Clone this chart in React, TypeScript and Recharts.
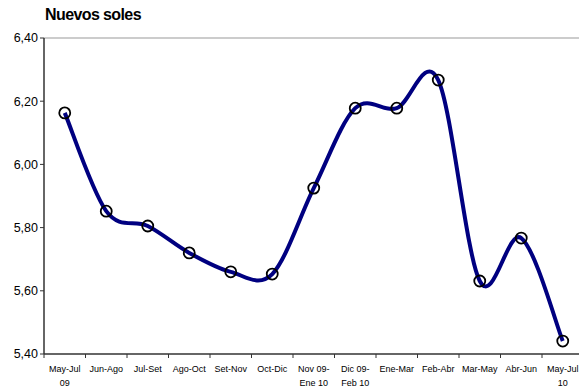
import { LineChart, Line, XAxis, YAxis, ReferenceLine } from "recharts";

const periods = [
  ["May-Jul", "09"],
  ["Jun-Ago"],
  ["Jul-Set"],
  ["Ago-Oct"],
  ["Set-Nov"],
  ["Oct-Dic"],
  ["Nov 09-", "Ene 10"],
  ["Dic 09-", "Feb 10"],
  ["Ene-Mar"],
  ["Feb-Abr"],
  ["Mar-May"],
  ["Abr-Jun"],
  ["May-Jul", "10"],
];

const soles = [6.163, 5.852, 5.805, 5.72, 5.66, 5.653, 5.925, 6.178, 6.178, 6.267, 5.631, 5.767, 5.441];

const yTicks = [5.4, 5.6, 5.8, 6.0, 6.2, 6.4];

const data = periods.map((p, i) => ({ key: p.join(" "), value: soles[i] }));

const HALF_STEP = 20.75;

// Excel-like smoothing (uniform Catmull-Rom through every point)
function excelSmooth(context: any) {
  let pts: [number, number][] = [];
  return {
    areaStart() {},
    areaEnd() {},
    lineStart() {
      pts = [];
    },
    point(x: number, y: number) {
      pts.push([+x, +y]);
    },
    lineEnd() {
      const n = pts.length;
      if (!n) return;
      context.moveTo(pts[0][0], pts[0][1]);
      for (let i = 0; i < n - 1; i++) {
        const p0 = pts[Math.max(i - 1, 0)];
        const p1 = pts[i];
        const p2 = pts[i + 1];
        const p3 = pts[Math.min(i + 2, n - 1)];
        context.bezierCurveTo(
          p1[0] + (p2[0] - p0[0]) / 6,
          p1[1] + (p2[1] - p0[1]) / 6,
          p2[0] - (p3[0] - p1[0]) / 6,
          p2[1] - (p3[1] - p1[1]) / 6,
          p2[0],
          p2[1],
        );
      }
    },
  };
}

function PeriodTick(props: any) {
  const { x, y, index } = props;
  const lines = periods[index] || [];
  return (
    <g>
      <line x1={x - HALF_STEP} y1={y - 8} x2={x - HALF_STEP} y2={y - 4} stroke="#333" strokeWidth={1} />
      {lines.map((t, i) => (
        <text
          key={i}
          x={x}
          y={y + 10 + i * 14}
          textAnchor="middle"
          fontSize={9}
          fontFamily="Liberation Sans, Arial, sans-serif"
          fill="#000"
        >
          {t}
        </text>
      ))}
    </g>
  );
}

export default function App() {
  return (
    <div
      style={{
        position: "absolute",
        left: 0,
        top: 0,
        width: 579,
        height: 390,
        overflow: "hidden",
        background: "#fff",
      }}
    >
      <div
        style={{
          position: "absolute",
          left: 45,
          top: 6,
          fontFamily: "Liberation Sans, Arial, sans-serif",
          fontSize: 16,
          fontWeight: "bold",
          letterSpacing: -0.6,
          color: "#000",
        }}
      >
        Nuevos soles
      </div>
      <LineChart width={590} height={390} data={data} margin={{ top: 38, right: 6.5, bottom: 0, left: 0 }}>
        <ReferenceLine y={6.4} stroke="#999" strokeWidth={1} />
        <XAxis
          dataKey="key"
          interval={0}
          padding={{ left: HALF_STEP, right: HALF_STEP }}
          axisLine={{ stroke: "#333", strokeWidth: 1.5 }}
          tickLine={false}
          tick={<PeriodTick />}
          height={36}
        />
        <YAxis
          domain={[5.4, 6.4]}
          ticks={yTicks}
          interval={0}
          width={44}
          tickFormatter={(v: number) => v.toFixed(2).replace(".", ",")}
          axisLine={{ stroke: "#333", strokeWidth: 1.5 }}
          tickLine={{ stroke: "#333" }}
          tickSize={4}
          tick={{ fontSize: 12.5, fill: "#000", fontFamily: "Liberation Sans, Arial, sans-serif" }}
        />
        <Line
          dataKey="value"
          type={excelSmooth as any}
          stroke="#000080"
          strokeWidth={4}
          dot={{ r: 5.5, stroke: "#000", strokeWidth: 1.8, fill: "none" }}
          isAnimationActive={false}
        />
      </LineChart>
    </div>
  );
}
